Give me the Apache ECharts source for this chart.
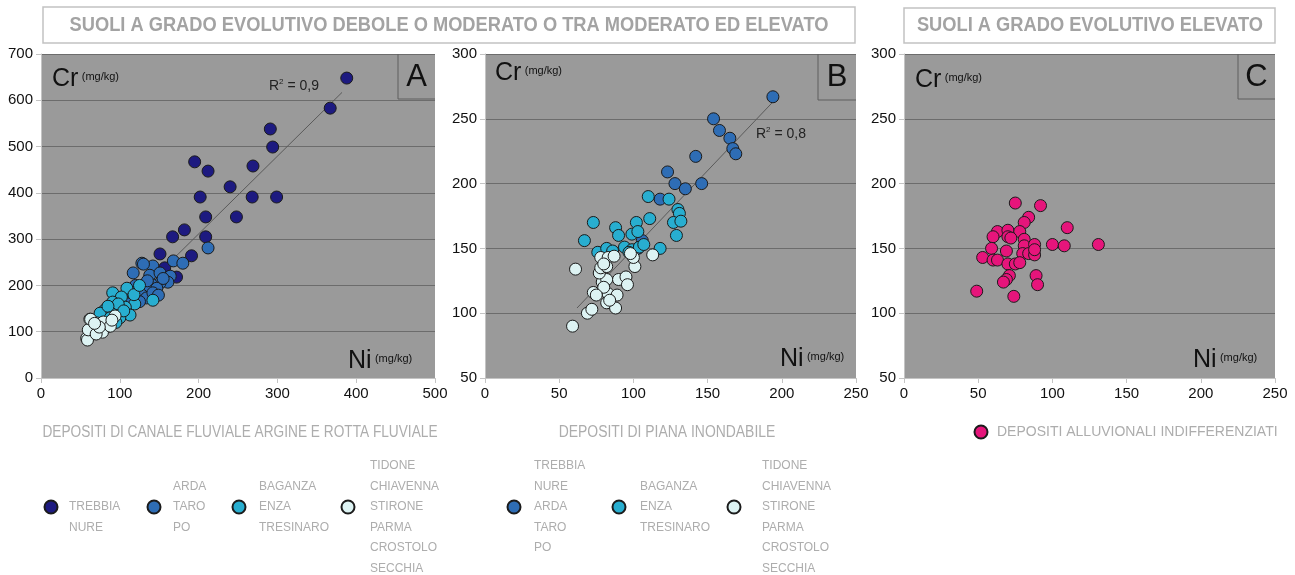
<!DOCTYPE html>
<html>
<head>
<meta charset="utf-8">
<script src="https://cdn.jsdelivr.net/npm/echarts@6/dist/echarts.min.js"></script>
<style>
  html, body { margin: 0; padding: 0; background: #fff; }
  #chart { width: 1295px; height: 575px; }
</style>
</head>
<body>
<div id="chart"></div>
<script>
// --- dati: [Ni, Cr] in mg/kg ---
const aNavy = [[388,648],[367,583],[291,538],[294,499],[195,467],[212,447],[269,458],[240,413],[202,391],[268,391],[299,391],[209,348],[248,348],[167,305],[182,320],[209,305],[151,268],[191,264],[172,218],[157,238]]
const aBlue = [[212,281],[128,248],[142,242],[168,253],[180,248],[117,227],[138,222],[151,227],[164,220],[161,207],[151,205],[141,201],[126,194],[138,190],[147,194],[128,179],[134,173],[142,184],[149,179],[130,246],[120,200],[115,185],[125,165],[110,160],[135,210],[155,215]]
const aCyan = [[142,168],[91,184],[109,194],[102,175],[91,164],[119,160],[107,153],[113,136],[81,147],[75,140],[96,140],[98,160],[85,155],[100,130],[118,180],[125,200],[105,145],[88,130],[95,120]]
const aWhite = [[62,127],[94,134],[86,112],[77,104],[66,99],[58,86],[59,82],[71,119],[79,121],[60,104],[63,127],[78,99],[88,112],[70,95],[74,110],[90,125],[68,118]]
const aTrend = [[60,76],[382,617]]

const bBlue = [[194,267],[154,250],[158,241],[165,235],[167,227],[169,223],[142,221],[123,209],[128,200],[135,196],[146,200],[118,188],[106,156],[103,150]]
const bCyan = [[110,190],[124,188],[111,173],[130,180],[131,177],[127,170],[132,171],[73,170],[88,166],[102,170],[90,160],[99,161],[103,163],[129,160],[67,156],[76,147],[82,150],[94,151],[99,149],[104,151],[107,153],[118,150],[97,147],[86,148]]
const bWhite = [[59,90],[61,134],[69,100],[72,103],[73,116],[82,108],[83,115],[89,114],[88,104],[79,124],[82,126],[77,131],[78,135],[78,143],[83,143],[82,136],[87,144],[90,126],[95,128],[96,122],[101,136],[100,143],[98,146],[113,145],[80,120],[75,114],[84,110],[80,138]]
const bTrend = [[62,104],[194,263]]

const cPink = [[75,185],[92,183],[84,174],[81,170],[110,166],[63,163],[70,164],[78,163],[60,159],[70,159],[72,158],[81,157],[81,152],[88,153],[100,153],[108,152],[131,153],[59,150],[69,148],[80,146],[84,146],[88,145],[88,149],[53,143],[60,141],[63,141],[70,138],[75,138],[78,139],[71,129],[89,129],[69,126],[67,124],[90,122],[49,117],[74,113]]

const groupLabels = {
  aNavy: ['', 'TREBBIA', 'NURE'],
  aBlue: ['ARDA', 'TARO', 'PO'],
  aCyan: ['BAGANZA', 'ENZA', 'TRESINARO'],
  aWhite: ['', 'TIDONE', 'CHIAVENNA', 'STIRONE', 'PARMA', 'CROSTOLO', 'SECCHIA'],
  bBlue: ['TREBBIA', 'NURE', 'ARDA', 'TARO', 'PO'],
  bCyan: ['BAGANZA', 'ENZA', 'TRESINARO'],
  bWhite: ['', 'TIDONE', 'CHIAVENNA', 'STIRONE', 'PARMA', 'CROSTOLO', 'SECCHIA'],
  cPink: ['DEPOSITI ALLUVIONALI INDIFFERENZIATI']
}

const ARIAL = '"Liberation Sans", Arial, sans-serif'
const NAVY = '#1d1a80'
const BLUE = '#2e6db5'
const CYAN = '#28aed0'
const WHITE = '#ddf3f3'
const PINK = '#e6157b'
const SQUEEZE = 0.87   // il grafico originale usa un carattere "narrow"

const chart = echarts.init(document.getElementById('chart'))

const axisBase = {
  axisLine: { show: true, lineStyle: { color: '#c4c4c4' } },
  axisTick: { show: true, length: 5, lineStyle: { color: '#c4c4c4' } },
  axisLabel: { color: '#111', fontSize: 15, fontFamily: ARIAL }
}
const xAxis = (idx, max, interval) => Object.assign({}, axisBase, {
  type: 'value', gridIndex: idx, min: 0, max: max, interval: interval,
  splitLine: { show: false },
  axisLabel: Object.assign({}, axisBase.axisLabel, { margin: 8 })
})
const yAxis = (idx, min, max, interval) => Object.assign({}, axisBase, {
  type: 'value', gridIndex: idx, min: min, max: max, interval: interval,
  splitLine: { show: true, lineStyle: { color: '#6c6c6c', width: 1 } },
  axisLabel: Object.assign({}, axisBase.axisLabel, { margin: 8 })
})

const dots = (name, data, color, idx) => ({
  name: name, type: 'scatter', xAxisIndex: idx, yAxisIndex: idx,
  data: data, symbolSize: 12, z: 3,
  itemStyle: { color: color, opacity: 1, borderColor: '#1b1b1b', borderWidth: 1 }
})
const trend = (data, idx) => ({
  type: 'line', xAxisIndex: idx, yAxisIndex: idx, data: data,
  symbol: 'none', silent: true, z: 2,
  lineStyle: { color: '#5a5a5a', width: 1 }
})

// una legenda per gruppo, icona allineata con una riga del testo
const LH = 20.5
const legendItem = (name, cx, cy, textX, size) => {
  const n = groupLabels[name].length
  return {
    data: [name], left: cx - 6.5, top: cy - n * LH / 2,
    padding: 0, itemWidth: 13, itemHeight: 13, icon: 'circle',
    selectedMode: false,
    formatter: nm => groupLabels[nm].join('\n'),
    textStyle: {
      color: '#adadad', fontSize: size || 12, lineHeight: LH, fontFamily: ARIAL,
      padding: [0, 0, 0, textX - cx - 11.5]
    }
  }
}

// testi e riquadri
const txt = (x, y, text, font, color, align, sx) => ({
  type: 'text', x: x, y: y, scaleX: sx || 1,
  style: { text: text, font: font, fill: color, align: align || 'left', verticalAlign: 'middle' }
})
const unitLabel = (x, y, sym) => ({
  type: 'text', x: x, y: y,
  style: {
    text: '{b|' + sym + '} {s|(mg/kg)}', verticalAlign: 'middle',
    rich: {
      b: { font: '25px ' + ARIAL, fill: '#111' },
      s: { font: '11px ' + ARIAL, fill: '#111', padding: [0, 0, 4, 0] }
    }
  }
})
const r2 = (x, y, v) => ({
  type: 'text', x: x, y: y,
  style: {
    text: 'R{sup|2} = ' + v, verticalAlign: 'middle',
    font: '14px ' + ARIAL, fill: '#222',
    rich: { sup: { font: '8px ' + ARIAL, fill: '#222', padding: [0, 0, 8, 0] } }
  }
})
const letterBox = (x0, x1, y1, letter) => [
  { type: 'polyline', shape: { points: [[x0, 54], [x0, y1], [x1, y1]] },
    style: { stroke: '#5e5e5e', lineWidth: 1, fill: null }, z: 10 },
  txt((x0 + x1) / 2, 77, letter, '31px ' + ARIAL, '#111', 'center')
]

const option = {
  backgroundColor: '#fff',
  animation: false,
  grid: [
    { left: 41, top: 54, width: 394, height: 324, show: true, backgroundColor: '#9a9a9a', borderWidth: 0 },
    { left: 485, top: 54, width: 371, height: 324, show: true, backgroundColor: '#9a9a9a', borderWidth: 0 },
    { left: 904, top: 54, width: 371, height: 324, show: true, backgroundColor: '#9a9a9a', borderWidth: 0 }
  ],
  xAxis: [xAxis(0, 500, 100), xAxis(1, 250, 50), xAxis(2, 250, 50)],
  yAxis: [yAxis(0, 0, 700, 100), yAxis(1, 50, 300, 50), yAxis(2, 50, 300, 50)],
  legend: [
    legendItem('aNavy', 50, 507, 68),
    legendItem('aBlue', 153, 507, 172),
    legendItem('aCyan', 238, 507, 258),
    legendItem('aWhite', 347, 507, 369),
    legendItem('bBlue', 513, 507, 533),
    legendItem('bCyan', 618, 507, 639),
    legendItem('bWhite', 733, 507, 761),
    legendItem('cPink', 980, 432, 996, 14)
  ],
  series: [
    trend(aTrend, 0),
    dots('aNavy', aNavy, NAVY, 0),
    dots('aBlue', aBlue, BLUE, 0),
    dots('aCyan', aCyan, CYAN, 0),
    dots('aWhite', aWhite, WHITE, 0),
    trend(bTrend, 1),
    dots('bBlue', bBlue, BLUE, 1),
    dots('bCyan', bCyan, CYAN, 1),
    dots('bWhite', bWhite, WHITE, 1),
    dots('cPink', cPink, PINK, 2)
  ],
  graphic: [
    { type: 'rect', shape: { x: 43, y: 7, width: 812, height: 36 },
      style: { fill: '#fff', stroke: '#c2c2c2', lineWidth: 1.5 } },
    txt(449, 25, 'SUOLI A GRADO EVOLUTIVO DEBOLE O MODERATO O TRA MODERATO ED ELEVATO',
      'bold 21px ' + ARIAL, '#a3a3a3', 'center', SQUEEZE),
    { type: 'rect', shape: { x: 904, y: 8, width: 371, height: 35 },
      style: { fill: '#fff', stroke: '#c2c2c2', lineWidth: 1.5 } },
    txt(1090, 25, 'SUOLI A GRADO EVOLUTIVO ELEVATO', 'bold 21px ' + ARIAL, '#a3a3a3', 'center', SQUEEZE),
    txt(240, 433, 'DEPOSITI DI CANALE FLUVIALE ARGINE E ROTTA FLUVIALE', '16px ' + ARIAL, '#adadad', 'center', 0.855),
    txt(667, 433, 'DEPOSITI DI PIANA INONDABILE', '16px ' + ARIAL, '#adadad', 'center', 0.87),
    unitLabel(52, 79, 'Cr'), unitLabel(495, 73, 'Cr'), unitLabel(915, 80, 'Cr'),
    unitLabel(348, 361, 'Ni'), unitLabel(780, 359, 'Ni'), unitLabel(1193, 360, 'Ni'),
    r2(269, 86, '0,9'), r2(756, 134, '0,8'),
    ...letterBox(398, 435, 99, 'A'),
    ...letterBox(818, 856, 100, 'B'),
    ...letterBox(1238, 1275, 99, 'C')
  ]
}

chart.setOption(option)
</script>
</body>
</html>
